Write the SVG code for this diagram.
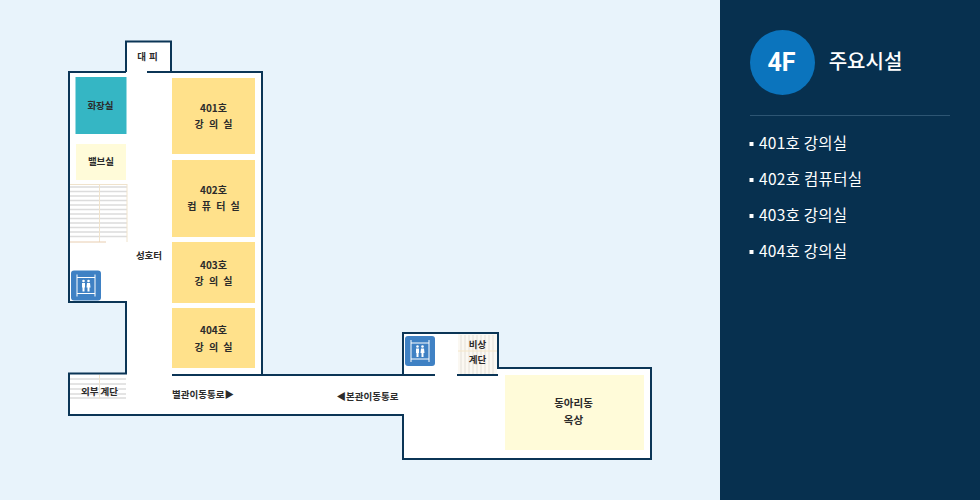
<svg xmlns="http://www.w3.org/2000/svg" width="980" height="500" viewBox="0 0 980 500">
<style>
text{font-family:"Noto Sans CJK KR","Noto Sans",sans-serif;text-anchor:middle}
.l{font-size:9.500px;font-weight:700;fill:#2b2b2b}
.n{font-size:10px;font-weight:700;fill:#2b2b2b}
.w{font-size:10px;word-spacing:3px}
.r{fill:#ffe18b}
.wall{fill:none;stroke:#0b3556;stroke-width:2}
.st{stroke:#dcdcdc;stroke-width:1.300}
.sv{stroke:#f0e3cc;stroke-width:1}
.item{font-size:15.500px;fill:#fff;text-anchor:start;font-weight:400}
</style>
<defs>
<g id="elev">
<rect width="30" height="30" rx="3" fill="#3f81c4"/>
<path d="M6 4V26M24 4V26M6 7H24M6 23H24" fill="none" stroke="#fff" stroke-width="1"/>
<circle cx="12.500" cy="10.500" r="1.300" fill="#fff"/><circle cx="17.500" cy="10.500" r="1.300" fill="#fff"/>
<path d="M11 12.500H14V17H13.500V21H11.500V17H11ZM16 12.500H19L19.500 17H18.500V21H16.500V17H15.500Z" fill="#fff"/>
</g>
</defs>
<rect width="980" height="500" fill="#e8f3fb"/>
<g id="floor">
<path d="M69 72H126V41.500H171V72H261V375H403V333H498V368H651V459H403V415H69V374H126V302H69Z" fill="#fff"/>
</g>
<g id="stairs-left">
<path class="st" d="M70 187H127M70 191.500H127M70 196H127M70 200.500H127M70 205H127M70 209.500H127M70 214H127M70 218.500H127M70 223H127M70 227.500H127M70 232H127M70 236.500H127"/>
<path class="sv" d="M99.500 184V242M127 184V242M70 184.500H127"/>
<path d="M70 242H106" stroke="#e8cdb0"/>
</g>
<g id="stairs-outer">
<path class="st" d="M70 379H126M70 384H126M70 389H126M70 394H126M70 398H126"/>
<path class="sv" d="M99.500 375V399"/>
</g>
<g id="stairs-emergency">
<path d="M458 334H497V375H458Z" fill="#fbf8f2"/>
<path stroke="#e4e0d8" d="M461 335V374M465 335V374M469 335V374M473 335V374M477 335V374M481 335V374M485 335V374M489 335V374M493 335V374"/>
<path stroke="#f5e6c8" d="M458 351H497"/>
</g>
<g id="walls">
<path class="wall" d="M126 72V41.500H171V72"/>
<path class="wall" d="M126 72H69V302H126V373.500H69V415H403V459H651V368H498V333H403V375H262V72H147"/>
<path class="wall" d="M172 375H262M403 375H435M457 375H498"/>
</g>
<g id="room-daepi"><text class="l" x="147.500" y="60" style="word-spacing:1px">대 피</text></g>
<g id="room-toilet"><rect x="75.500" y="77" width="51" height="57" fill="#35b6c4"/><text class="l" x="100.500" y="109">화장실</text></g>
<g id="room-valve"><rect x="76" y="144" width="50" height="36" fill="#fffbd9"/><text class="l" x="101" y="165">밸브실</text></g>
<g id="room-401"><rect class="r" x="172" y="78" width="83" height="76"/><text class="n" x="213.500" y="112">401호</text><text class="l w" x="213.500" y="128">강 의 실</text></g>
<g id="room-402"><rect class="r" x="172" y="160" width="83" height="77"/><text class="n" x="213.500" y="194">402호</text><text class="l w" x="213.500" y="210">컴 퓨 터 실</text></g>
<g id="room-403"><rect class="r" x="172" y="242" width="83" height="61"/><text class="n" x="213.500" y="269">403호</text><text class="l w" x="213.500" y="285">강 의 실</text></g>
<g id="room-404"><rect class="r" x="172" y="308" width="83" height="60"/><text class="n" x="213.500" y="334">404호</text><text class="l w" x="213.500" y="351">강 의 실</text></g>
<g id="room-club"><rect x="505" y="375" width="139" height="75" fill="#fffbd9"/><text class="l" x="573.500" y="407" style="font-size:10.500px">동아리동</text><text class="l" x="573.500" y="424" style="font-size:10.500px">옥상</text></g>
<g id="elevator-left"><use href="#elev" x="71" y="270.500"/></g>
<g id="elevator-right"><use href="#elev" x="405" y="336"/></g>
<g id="labels">
<text class="l" x="149" y="259">성호터</text>
<text class="l" x="99.500" y="395">외부 계단</text>
<text class="l" x="203" y="398">별관이동통로▶</text>
<text class="l" x="367.500" y="400">◀본관이동통로</text>
<text class="l" x="477.500" y="348">비상</text>
<text class="l" x="477.500" y="363">계단</text>
</g>
<g id="sidebar">
<rect x="720" width="260" height="500" fill="#07304f"/>
<circle cx="782.500" cy="62.500" r="32.500" fill="#0b74bd"/>
<text x="781.500" y="71" style="font-family:Roboto,sans-serif;font-size:25px;font-weight:700" fill="#fff">4F</text>
<text x="865.500" y="69" style="font-size:20px;font-weight:500" fill="#fff">주요시설</text>
<path d="M750 115.500H950" stroke="#2d5573"/>
<g fill="#fff"><rect x="749.500" y="142" width="4" height="4"/><rect x="749.500" y="178" width="4" height="4"/><rect x="749.500" y="214" width="4" height="4"/><rect x="749.500" y="250" width="4" height="4"/></g>
<text class="item" x="759" y="149" textLength="88">401호 강의실</text>
<text class="item" x="759" y="185" textLength="103">402호 컴퓨터실</text>
<text class="item" x="759" y="221" textLength="88">403호 강의실</text>
<text class="item" x="759" y="257" textLength="88">404호 강의실</text>
</g>
</svg>
